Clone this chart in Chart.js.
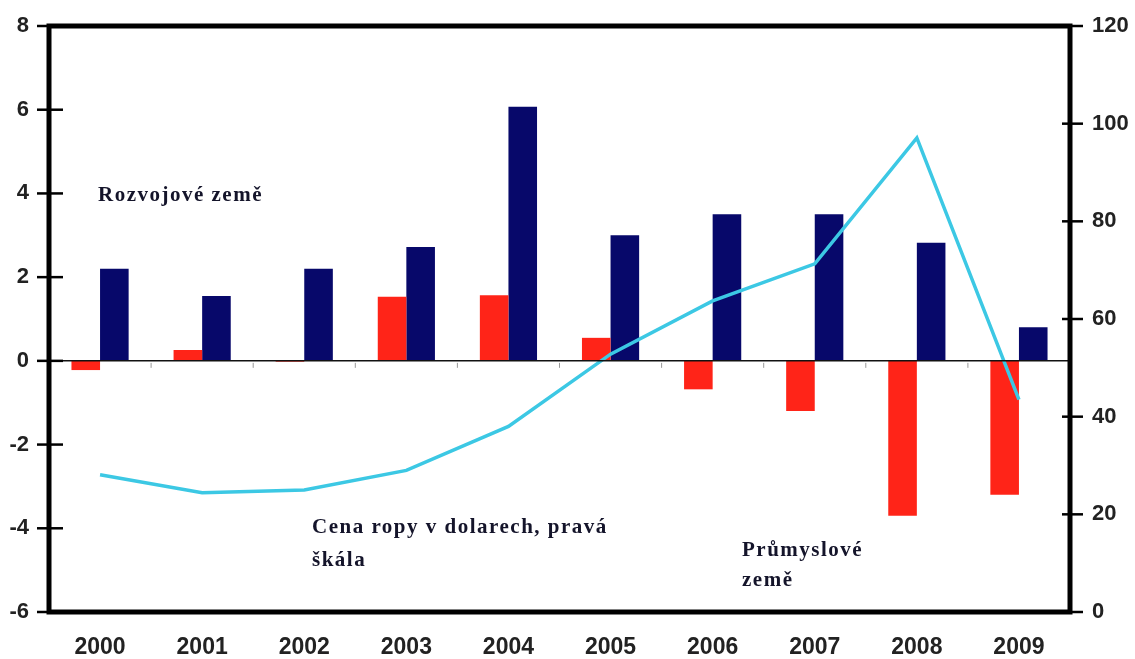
<!DOCTYPE html>
<html>
<head>
<meta charset="utf-8">
<script src="https://cdn.jsdelivr.net/npm/chart.js@4"></script>
<style>
  html, body { margin: 0; padding: 0; background: #fff; }
  #wrap { width: 1135px; height: 659px; }
</style>
</head>
<body>
<div id="wrap"><canvas id="oilchart"></canvas></div>
<script>
const years = ['2000', '2001', '2002', '2003', '2004', '2005', '2006', '2007', '2008', '2009'];
// growth change, left scale
const prumysloveZeme = [-0.22, 0.26, -0.02, 1.53, 1.57, 0.55, -0.68, -1.2, -3.7, -3.2];
const rozvojoveZeme = [2.2, 1.55, 2.2, 2.72, 6.07, 3.0, 3.5, 3.5, 2.82, 0.8];
// oil price in USD, right scale
const cenaRopy = [28.1, 24.4, 25.0, 29.0, 38.0, 52.8, 63.7, 71.3, 97.1, 43.5];
const leftTicks = [-6, -4, -2, 0, 2, 4, 6, 8];
const rightTicks = [0, 20, 40, 60, 80, 100, 120];

const labelFont = { family: 'Liberation Sans', size: 22, weight: 'bold' };

// frame, crossing tick marks, zero line and the text notes
const framePlugin = {
  id: 'frame',
  afterDatasetsDraw(chart) {
    const { ctx, chartArea: a, scales } = chart;
    const y = scales.y, y1 = scales.y1, x = scales.x;
    ctx.save();
    // zero line
    const z = y.getPixelForValue(0);
    ctx.strokeStyle = '#111';
    ctx.lineWidth = 1.5;
    ctx.beginPath();
    ctx.moveTo(a.left, z);
    ctx.lineTo(a.right, z);
    ctx.stroke();
    // small category ticks under zero line
    ctx.strokeStyle = '#999';
    ctx.lineWidth = 1;
    for (let i = 0; i < years.length - 1; i++) {
      const bx = (x.getPixelForValue(i) + x.getPixelForValue(i + 1)) / 2;
      ctx.beginPath();
      ctx.moveTo(bx, z + 2);
      ctx.lineTo(bx, z + 7);
      ctx.stroke();
    }
    // box
    ctx.strokeStyle = '#000';
    ctx.lineWidth = 5;
    ctx.strokeRect(a.left, a.top, a.right - a.left, a.bottom - a.top);
    // tick marks
    ctx.lineWidth = 2.5;
    leftTicks.forEach(v => {
      const py = y.getPixelForValue(v);
      ctx.beginPath();
      ctx.moveTo(a.left - 12, py);
      ctx.lineTo(a.left + 14, py);
      ctx.stroke();
    });
    rightTicks.forEach(v => {
      const py = y1.getPixelForValue(v);
      ctx.beginPath();
      ctx.moveTo(a.right - 8, py);
      ctx.lineTo(a.right + 13, py);
      ctx.stroke();
    });
    // notes
    ctx.fillStyle = '#14142a';
    ctx.font = 'bold 21px "Liberation Serif"';
    ctx.letterSpacing = '1.5px';
    ctx.textBaseline = 'middle';
    ctx.textAlign = 'left';
    ctx.fillText('Rozvojové země', 98, 196);
    ctx.fillText('Cena ropy v dolarech, pravá', 312, 528);
    ctx.fillText('škála', 312, 561);
    ctx.fillText('Průmyslové', 742, 551);
    ctx.fillText('země', 742, 581);
    ctx.restore();
  }
};

function noPad(s) {
  s.paddingTop = 0;
  s.paddingBottom = 0;
  s.paddingLeft = 0;
  s.paddingRight = 0;
}

const data = {
  labels: years,
  datasets: [
    {
      type: 'line',
      label: 'Cena ropy v dolarech',
      data: cenaRopy,
      yAxisID: 'y1',
      borderColor: '#3cc8e4',
      borderWidth: 3.5,
      pointRadius: 0,
      tension: 0,
      order: 0
    },
    {
      type: 'bar',
      label: 'Průmyslové země',
      data: prumysloveZeme,
      yAxisID: 'y',
      backgroundColor: '#ff2418',
      categoryPercentage: 0.56,
      barPercentage: 1.0,
      order: 1
    },
    {
      type: 'bar',
      label: 'Rozvojové země',
      data: rozvojoveZeme,
      yAxisID: 'y',
      backgroundColor: '#07086a',
      categoryPercentage: 0.56,
      barPercentage: 1.0,
      order: 1
    }
  ]
};

const config = {
  type: 'bar',
  data: data,
  options: {
    responsive: true,
    maintainAspectRatio: false,
    animation: false,
    layout: { padding: { top: 26, left: 0, right: 0, bottom: 0 } },
    plugins: { legend: { display: false }, tooltip: { enabled: false } },
    scales: {
      x: {
        grid: { display: false, drawTicks: false },
        border: { display: false },
        ticks: { color: '#222', font: { family: 'Liberation Sans', size: 23, weight: 'bold' }, padding: 22, maxRotation: 0 },
        afterFit(s) { s.height = 47; noPad(s); }
      },
      y: {
        position: 'left',
        min: -6,
        max: 8,
        grid: { display: false, drawTicks: false },
        border: { display: false },
        ticks: { stepSize: 2, color: '#222', font: labelFont, padding: 20 },
        afterFit(s) { s.width = 49; noPad(s); }
      },
      y1: {
        position: 'right',
        min: 0,
        max: 120,
        grid: { display: false, drawTicks: false },
        border: { display: false },
        ticks: { stepSize: 20, color: '#222', font: labelFont, padding: 22 },
        afterFit(s) { s.width = 65; noPad(s); }
      }
    }
  },
  plugins: [framePlugin]
};

const oilChart = new Chart(document.getElementById('oilchart'), config);
</script>
</body>
</html>
